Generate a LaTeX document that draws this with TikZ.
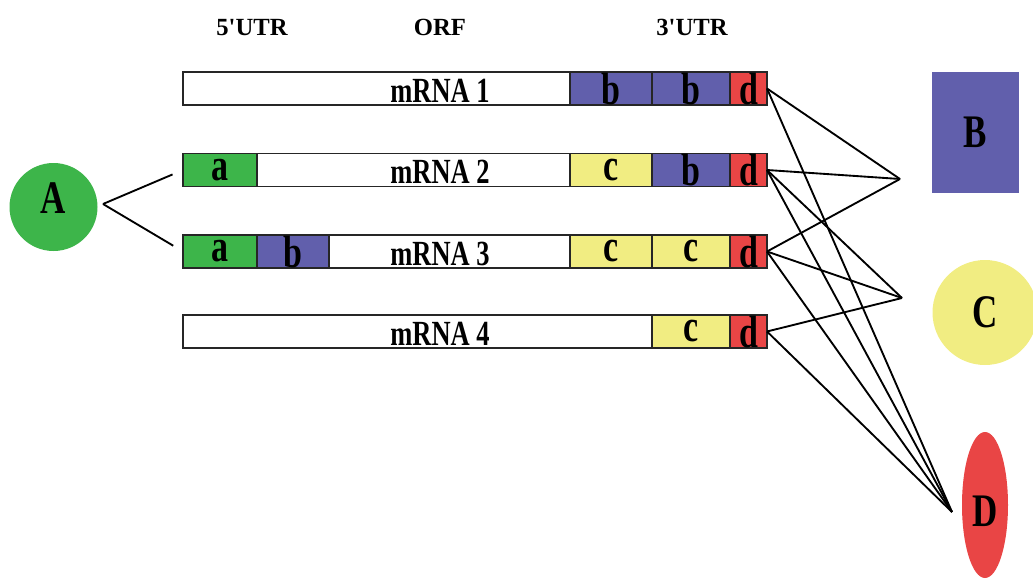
\documentclass[tikz,border=0pt]{standalone}
\usepackage{fontspec}
\setmainfont{Liberation Serif}
\newfontfamily\narrowfont[FakeStretch=0.75]{Liberation Serif}
\usetikzlibrary{positioning,shapes.geometric}
\definecolor{agreen}{RGB}{61,181,74}
\definecolor{bblue}{RGB}{97,95,172}
\definecolor{cyellow}{RGB}{241,237,130}
\definecolor{dred}{RGB}{233,69,69}

\begin{document}
\begin{tikzpicture}[x=0.75pt,y=0.75pt,yscale=-1,xscale=1,
  head/.style={font=\bfseries\fontsize{18.5}{20}\selectfont, anchor=base, inner sep=0pt},
  rna/.style={draw=black!85, line width=1.1pt, fill=white, minimum width=438pt, minimum height=24.75pt, inner sep=0pt, outer sep=0pt},
  rnalabel/.style={font=\narrowfont\bfseries\fontsize{26.5}{28}\selectfont, anchor=base, inner sep=0pt},
  seg/.style={draw=black!85, line width=1.1pt, minimum height=24.75pt, minimum width=58.5pt, inner sep=0pt, outer sep=0pt, font=\narrowfont\bfseries\fontsize{34}{34}\selectfont},
  sega/.style={seg, fill=agreen, minimum width=55.5pt},
  segb/.style={seg, fill=bblue},
  segc/.style={seg, fill=cyellow},
  segd/.style={seg, fill=dred, minimum width=27.75pt},
  wide/.style={minimum width=61.5pt},
  factor/.style={inner sep=0pt, font=\narrowfont\bfseries\fontsize{35}{35}\selectfont},
  link/.style={line width=1.4pt}
]
\useasboundingbox (0,0) rectangle (1033,579);

% Column heads
\node[head] (utr5) at (252,35) {5\textquotesingle UTR};
\node[head] (orf) at (440,35) {ORF};
\node[head] (utr3) at (692,35) {3\textquotesingle UTR};

% mRNA 1
\node[rna] (rna1) at (475,88.5) {};
\node[segd, anchor=east] (d1) at (rna1.east) {d};
\node[segb, left=0pt of d1] (b1b) {b};
\node[segb, wide, left=0pt of b1b] (b1a) {b};
\node[rnalabel] (lab1) at (440,102) {mRNA 1};

% mRNA 2
\node[rna] (rna2) at (475,170) {};
\node[sega, anchor=west] (a2) at (rna2.west) {a};
\node[segd, anchor=east] (d2) at (rna2.east) {d};
\node[segb, left=0pt of d2] (b2) {b};
\node[segc, wide, left=0pt of b2] (c2) {c};
\node[rnalabel] (lab2) at (440,183.5) {mRNA 2};

% mRNA 3
\node[rna] (rna3) at (475,251.5) {};
\node[sega, anchor=west] (a3) at (rna3.west) {a};
\node[segb, minimum width=54pt, right=0pt of a3] (b3) {b};
\node[segd, anchor=east] (d3) at (rna3.east) {d};
\node[segc, left=0pt of d3] (c3b) {c};
\node[segc, wide, left=0pt of c3b] (c3a) {c};
\node[rnalabel] (lab3) at (440,265) {mRNA 3};

% mRNA 4
\node[rna] (rna4) at (475,331.5) {};
\node[segd, anchor=east] (d4) at (rna4.east) {d};
\node[segc, left=0pt of d4] (c4) {c};
\node[rnalabel] (lab4) at (440,345) {mRNA 4};

% Factors
\node[circle, fill=agreen, minimum size=66pt, factor, text height=23.2pt, text depth=14pt] (A) at (53.5,207) {A};
\node[fill=bblue, minimum width=65.25pt, minimum height=90.75pt, factor] (B) at (975.5,132.5) {B};
\node[circle, fill=cyellow, minimum size=78.75pt, factor] (C) at (985,312.5) {C};
\node[ellipse, fill=dred, minimum width=34.5pt, minimum height=109.5pt, factor, text height=32pt, text depth=0pt] (D) at (985,505) {D};

% Binding points
\coordinate (Apt) at (103,204);
\coordinate (Bpt) at (900,179);
\coordinate (Cpt) at (902,298);
\coordinate (Dpt) at (952,512);

% A to 5'UTR
\draw[link, shorten >=8.5pt] (Apt) -- (a2.west);
\draw[link, shorten >=8.5pt] (Apt) -- (a3.west);
% B sites
\draw[link] (d1.east) -- (Bpt);
\draw[link] (d2.east) -- (Bpt);
\draw[link] (d3.east) -- (Bpt);
% C sites
\draw[link] (d2.east) -- (Cpt);
\draw[link] (d3.east) -- (Cpt);
\draw[link] (d4.east) -- (Cpt);
% D sites
\draw[link] (d1.east) -- (Dpt);
\draw[link] (d2.east) -- (Dpt);
\draw[link] (d3.east) -- (Dpt);
\draw[link] (d4.east) -- (Dpt);

\end{tikzpicture}
\end{document}
